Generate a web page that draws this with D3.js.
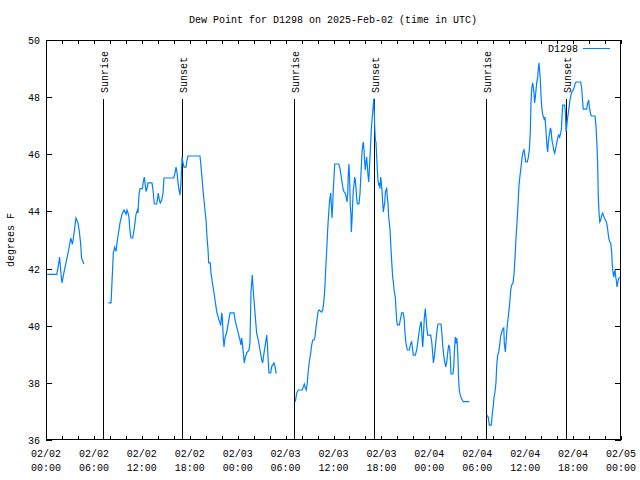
<!DOCTYPE html>
<html><head><meta charset="utf-8">
<script src="https://cdn.jsdelivr.net/npm/d3@7"></script>
<style>body{margin:0;background:#fff}svg{display:block}text{font-family:"Liberation Mono","DejaVu Sans Mono",monospace;font-size:10px;fill:#000}</style>
</head><body><svg id="c" width="640" height="480"></svg>
<script>
const title = "Dew Point for D1298 on 2025-Feb-02 (time in UTC)";
const seriesName = "D1298";
const yLabel = "degrees F";
// hours since 2025-02-02 00:00 UTC (null = gap)
const hours = [
0,1.35,1.55,1.7,1.85,2.0,2.2,2.5,2.8,3.1,3.3,3.45,3.75,4.0,4.15,4.33,4.45,4.75,null,
7.80,8.14,8.26,8.43,8.60,8.77,8.89,9.05,9.27,9.52,9.77,10.02,10.14,10.27,10.39,10.52,10.64,10.86,11.02,11.14,11.27,11.46,11.52,11.65,11.77,12.08,12.15,12.31,12.40,12.52,12.65,12.77,13.27,13.40,13.49,13.56,13.86,13.99,14.06,14.19,14.31,14.49,14.65,14.78,15.99,16.15,16.28,16.40,16.53,16.65,16.78,16.90,17.03,17.16,17.28,17.53,17.66,17.78,19.28,19.37,19.53,19.66,19.78,19.91,20.04,20.16,20.29,20.37,20.57,20.66,20.79,20.91,21.04,21.16,21.29,21.41,21.66,21.79,21.88,22.00,22.08,22.20,22.29,22.41,22.63,22.83,23.04,23.54,23.67,23.88,24.08,24.29,24.42,24.50,24.58,24.71,24.83,24.96,25.13,25.42,25.54,25.67,25.83,25.92,26.04,26.17,26.38,26.58,26.80,27.01,27.13,27.30,27.42,27.55,27.64,27.71,27.84,27.92,28.14,28.26,28.55,28.68,28.80,28.89,null,
31.22,31.39,31.59,32.09,32.22,32.34,32.47,32.59,32.72,32.85,32.97,33.15,33.27,33.40,33.56,33.68,33.81,33.93,34.06,34.19,34.52,34.65,34.77,34.90,35.02,35.15,35.27,35.40,35.52,35.65,35.72,35.81,35.90,35.97,36.06,36.15,36.65,36.82,36.94,37.07,37.19,37.32,37.48,37.60,37.69,37.78,37.85,37.94,38.03,38.10,38.19,38.23,38.32,38.40,38.48,38.56,38.65,38.73,38.81,38.90,38.98,39.19,39.32,39.40,39.48,39.57,39.65,39.73,39.82,39.91,39.98,40.07,40.15,40.23,40.32,40.41,40.48,40.57,40.66,40.73,40.82,40.91,40.98,41.05,41.11,41.16,41.24,41.32,41.41,41.49,41.57,41.66,41.74,41.82,41.91,41.99,42.07,42.16,42.24,42.32,42.41,42.49,42.57,42.66,42.74,42.82,42.91,42.99,43.08,43.16,43.24,43.33,43.41,43.49,43.62,43.74,43.83,43.91,43.99,44.24,44.41,44.54,44.74,44.86,44.95,45.08,45.24,45.49,45.67,45.79,45.92,45.99,46.24,46.42,46.54,46.67,46.79,46.92,46.99,47.08,47.17,47.25,47.37,47.50,47.58,47.67,47.80,48.17,48.30,48.42,48.50,48.62,48.75,48.87,49.00,49.08,49.46,49.59,49.67,49.80,49.92,50.05,50.18,50.30,50.43,50.55,50.63,50.71,50.96,51.05,51.13,51.25,51.34,51.42,51.50,51.58,51.67,51.75,51.88,52.00,52.25,53.00,null,
55.18,55.38,55.51,55.76,55.89,56.01,56.10,56.22,56.35,56.44,56.56,56.69,56.81,56.94,57.07,57.19,57.32,57.39,57.52,57.60,57.69,57.81,57.94,58.07,58.19,58.32,58.48,58.60,58.73,58.85,58.98,59.10,59.23,59.36,59.48,59.61,59.73,59.86,59.95,60.07,60.27,60.40,60.52,60.64,60.73,60.82,60.94,61.02,61.10,61.19,61.27,61.36,61.44,61.57,61.65,61.73,61.82,61.90,61.98,62.07,62.20,62.32,62.40,62.48,62.57,62.65,62.73,62.82,62.90,62.98,63.07,63.15,63.24,63.32,63.40,63.48,63.57,63.70,63.82,63.95,64.07,64.20,64.32,64.45,64.53,64.61,64.70,64.95,65.03,65.12,65.20,65.28,65.37,65.45,65.53,65.61,65.74,65.87,66.03,66.15,66.28,66.45,66.95,67.08,67.20,67.28,67.70,67.83,67.96,68.03,68.21,68.33,68.75,68.87,69.00,69.09,69.16,69.25,69.34,69.46,69.59,69.71,69.87,70.04,70.21,70.34,70.46,70.59,70.71,70.84,70.91,71.00,71.09,71.16,71.25,71.34,71.41,71.50,71.59,71.66,71.75,71.84
];
const dewF = [
41.8,41.8,42.1,42.4,41.9,41.5,41.8,42.2,42.6,43.07,42.85,43.1,43.77,43.6,43.35,42.9,42.37,42.16,null,
40.8,40.8,41.5,42.55,42.75,42.6,42.9,43.2,43.6,43.9,44.05,43.9,44.05,43.95,43.8,43.3,43.07,43.07,43.35,43.6,43.9,44.05,43.95,44.6,44.8,44.8,45.0,45.2,45.0,44.7,44.8,45.0,45.0,44.75,44.47,44.26,44.26,44.5,44.64,44.4,44.3,44.4,44.64,45.17,45.17,45.34,45.55,45.38,45.0,44.75,44.57,45.0,45.9,45.7,45.55,45.55,45.8,45.94,45.94,45.7,45.2,44.75,44.4,44.05,43.7,43.1,42.65,42.2,42.2,41.85,41.6,41.36,41.15,40.9,40.66,40.45,40.2,40.1,40.0,40.45,40.3,39.57,39.26,39.57,39.78,40.1,40.45,40.45,40.2,39.96,39.73,39.5,39.33,39.57,39.4,39.05,38.7,38.9,39.05,39.15,39.4,41.2,41.77,41.36,40.9,40.45,39.73,39.5,39.15,38.8,38.7,39.05,39.26,39.5,39.67,39.4,38.7,38.35,38.35,38.57,38.7,38.57,38.35,38.35,null,
37.34,37.64,37.75,37.75,37.86,37.96,37.82,37.75,38.0,38.45,38.74,39.05,39.33,39.5,39.5,39.6,39.96,40.2,40.48,40.55,40.48,40.55,40.8,41.25,41.95,42.65,43.35,43.95,44.4,44.64,44.3,43.77,44.2,44.75,45.17,45.66,45.66,45.5,45.27,45.03,44.8,44.68,44.64,44.47,44.33,44.64,45.27,45.66,45.03,44.2,43.87,43.28,43.7,44.3,44.75,44.9,45.2,45.1,44.86,44.5,44.26,44.26,44.64,45.1,45.55,46.07,46.3,46.43,46.15,45.7,45.45,45.73,45.9,45.62,45.27,45.03,45.38,45.9,46.43,46.85,47.2,47.48,47.72,47.95,47.5,46.96,46.5,46.43,45.9,45.45,45.1,44.9,45.0,44.8,45.2,45.0,44.75,44.3,43.98,44.15,44.3,44.64,44.75,44.8,44.5,44.3,43.8,43.6,43.35,42.9,42.47,42.05,41.7,41.53,41.18,41.0,40.55,40.2,40.03,40.03,40.27,40.45,40.45,40.2,39.73,39.38,39.15,39.15,39.38,39.43,39.15,38.97,38.97,39.15,39.38,39.67,39.92,40.1,40.15,39.6,39.26,39.6,40.27,40.6,40.3,39.96,39.67,39.67,39.43,39.05,38.7,38.9,39.26,39.6,39.92,40.06,40.06,39.67,39.33,38.97,38.73,38.56,38.73,39.05,39.33,39.22,38.87,38.31,38.31,38.56,39.05,39.6,39.38,39.57,39.38,38.9,38.1,37.75,37.57,37.47,37.34,37.34,null,
36.88,36.8,36.52,36.52,36.93,37.2,37.5,37.68,38.03,38.62,38.97,39.08,39.33,39.64,39.78,39.88,39.92,39.38,39.08,39.38,39.78,40.13,40.45,40.8,41.25,41.43,41.5,41.78,42.37,43.07,43.6,44.22,44.92,45.27,45.55,45.87,46.08,46.15,45.98,45.73,45.73,45.9,46.15,46.75,47.8,48.3,48.5,48.36,48.15,47.8,48.0,48.25,48.5,48.7,49.0,49.2,48.88,48.6,48.08,47.66,47.38,47.3,47.2,47.3,46.97,46.62,46.27,46.08,46.4,46.6,46.75,46.92,46.85,46.6,46.4,46.33,46.15,46.04,46.2,46.4,46.57,46.67,46.6,46.75,46.85,47.3,47.72,47.72,47.48,46.78,46.96,47.2,47.38,47.55,47.72,47.9,48.08,48.2,48.25,48.36,48.5,48.53,48.53,48.3,47.83,47.58,47.58,47.8,47.9,47.66,47.38,47.34,47.34,46.96,46.27,45.48,44.5,43.94,43.63,43.7,43.87,43.94,43.8,43.7,43.6,43.35,43.07,42.93,42.9,42.55,42.12,41.88,41.7,41.85,41.95,41.7,41.6,41.36,41.5,41.6,41.67,41.7
];
const sunEvents = ["Sunrise","Sunset","Sunrise","Sunset","Sunrise","Sunset"];
const sunHours = [7.18,17.07,31.1,41.1,55.13,65.15];
const xTickHours = [0,6,12,18,24,30,36,42,48,54,60,66,72];
const xTickDates = ["02/02","02/02","02/02","02/02","02/03","02/03","02/03","02/03","02/04","02/04","02/04","02/04","02/05"];
const xTickTimes = ["00:00","06:00","12:00","18:00","00:00","06:00","12:00","18:00","00:00","06:00","12:00","18:00","00:00"];
const yTicks = [36,38,40,42,44,46,48,50];

const svg = d3.select("#c");
const L=46,R=621,T=40,B=440;
const x = d3.scaleLinear().domain([0,72]).range([L,R]);
const y = d3.scaleLinear().domain([36,50]).range([B,T]);
const color = "#0080ff";

svg.append("text").attr("x",333).attr("y",23).attr("text-anchor","middle").text(title);

const minor = d3.range(0,73,2);
const g = svg.append("g").attr("stroke","#000").attr("stroke-width",1).attr("shape-rendering","crispEdges");
minor.forEach(h=>{
  g.append("line").attr("x1",Math.round(x(h))+0.5).attr("x2",Math.round(x(h))+0.5).attr("y1",B).attr("y2",B-4);
  g.append("line").attr("x1",Math.round(x(h))+0.5).attr("x2",Math.round(x(h))+0.5).attr("y1",T).attr("y2",T+4);
});
yTicks.forEach(v=>{
  const yy=Math.round(y(v))+0.5;
  g.append("line").attr("x1",L).attr("x2",L+6).attr("y1",yy).attr("y2",yy);
  g.append("line").attr("x1",R).attr("x2",R-6).attr("y1",yy).attr("y2",yy);
  svg.append("text").attr("x",L-6).attr("y",y(v)+4).attr("text-anchor","end").text(v);
});
xTickHours.forEach((h,i)=>{
  svg.append("text").attr("x",x(h)).attr("y",457).attr("text-anchor","middle").text(xTickDates[i]);
  svg.append("text").attr("x",x(h)).attr("y",471).attr("text-anchor","middle").text(xTickTimes[i]);
});
svg.append("text").attr("transform","translate(14,240) rotate(-90)").attr("text-anchor","middle").text(yLabel);

sunHours.forEach((h,i)=>{
  const xx=Math.round(x(h))+0.5;
  g.append("line").attr("x1",xx).attr("x2",xx).attr("y1",99).attr("y2",B);
  svg.append("text").attr("transform",`translate(${xx+4},93) rotate(-90)`).attr("text-anchor","start").text(sunEvents[i]);
});

const pts = hours.map((h,i)=>({h, v:dewF[i]}));
const line = d3.line().defined(d=>d.h!==null && d.v!==null).x(d=>x(d.h)).y(d=>y(d.v));
svg.append("path").datum(pts).attr("d",line).attr("fill","none").attr("stroke",color).attr("stroke-width",1.2);

svg.append("text").attr("x",578).attr("y",52).attr("text-anchor","end").text(seriesName);
svg.append("line").attr("x1",583).attr("x2",610).attr("y1",48.5).attr("y2",48.5).attr("stroke",color).attr("stroke-width",1).attr("shape-rendering","crispEdges");

svg.append("rect").attr("x",L+0.5).attr("y",T+0.5).attr("width",R-L-1).attr("height",B-T-1).attr("fill","none").attr("stroke","#000").attr("shape-rendering","crispEdges");
</script></body></html>
